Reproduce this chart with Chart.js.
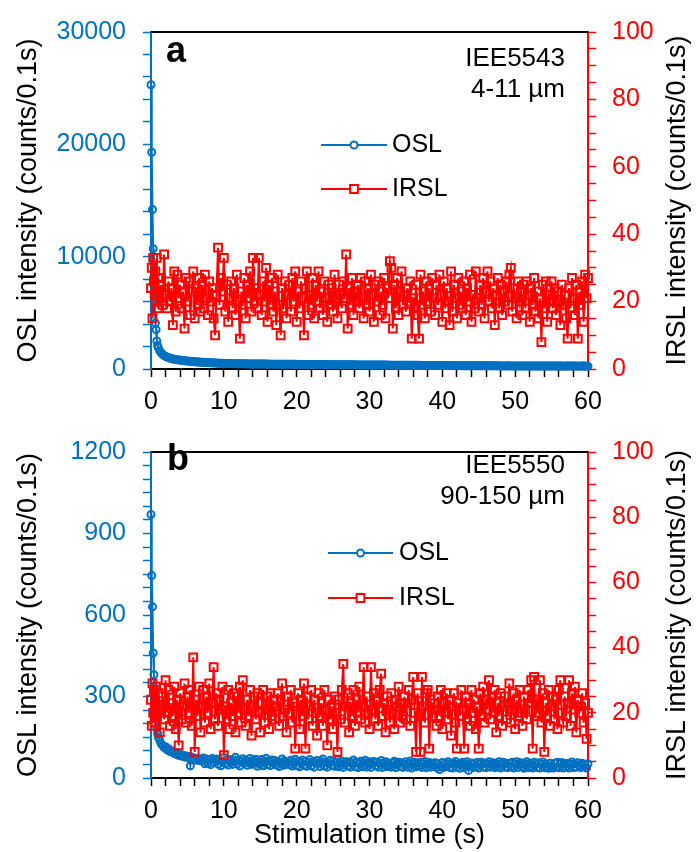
<!DOCTYPE html>
<html>
<head>
<meta charset="utf-8">
<script src="https://cdn.jsdelivr.net/npm/chart.js@4.4.1/dist/chart.umd.min.js"></script>
<style>
  html, body { margin: 0; padding: 0; background: #fff; }
  #wrap { position: relative; width: 696px; height: 852px; }
  .panel { position: absolute; left: 0; width: 696px; }
</style>
</head>
<body>
<div id="wrap">
  <div class="panel" style="top:0;height:420px"><canvas id="chartA"></canvas></div>
  <div class="panel" style="top:420px;height:432px"><canvas id="chartB"></canvas></div>
</div>
<script>
// channel start times (s): every 0.1 s channel for the first second, then every 2nd channel
const time = [];
for (let c = 0; c <= 600; c += (c < 10 ? 1 : 2)) time.push(c / 10);

// panel a : IEE5543, 4-11 um
const oslA = [
  25300,19300,14200,10700,8100,6000,4100,3500,2500,2100,
  1900,1600,1420,1300,1200,1120,1060,1010,970,930,
  900,870,850,830,810,790,770,750,735,720,
  705,690,680,665,655,645,635,625,615,605,
  598,590,580,575,568,560,552,548,540,534,
  528,522,515,512,505,500,496,492,488,485,
  481,478,476,472,470,468,465,462,460,458,
  457,452,455,449,451,446,448,443,445,440,
  442,438,440,435,437,432,434,430,431,428,
  430,426,428,423,425,421,423,419,421,417,
  419,415,417,412,414,410,412,408,410,406,
  408,404,406,401,403,399,401,397,399,395,
  397,393,395,390,392,388,390,386,388,384,
  386,382,384,379,381,377,379,375,377,373,
  375,371,373,368,370,366,368,364,366,362,
  364,360,362,357,359,355,357,353,355,351,
  354,350,352,347,349,345,347,343,345,341,
  344,340,342,337,339,335,337,333,335,331,
  334,330,332,327,329,325,327,323,325,321,
  324,320,322,317,319,315,317,313,315,311,
  314,310,312,307,309,305,307,303,305,301,
  304,300,302,297,299,295,297,293,295,291,
  295,291,293,288,290,286,288,284,286,282,
  290,286,288,283,285,281,283,279,281,277,
  285,281,283,278,280,276,278,274,276,272,
  280,276,278,273,275,271,273,269,271,267,
  276,272,274,269,271,267,269,265,267,263,
  272,268,270,265,267,263,265,261,263,259,
  268,264,266,261,263,259,261,257,259,255,
  265,261,263,258,260,256,258,254,256,252,
  262,258,260,255,257,254
];
const irslA = [
  24,30,15,33,26,22,29,20,33,18,
  27,21,25,19,34,22,18,26,20,24,
  13,29,17,28,21,25,18,23,12,27,
  20,26,16,23,29,15,24,19,27,17,
  25,18,28,21,16,26,20,24,15,10,
  22,36,19,27,23,33,17,25,14,21,
  26,18,24,16,28,20,9,23,19,27,
  15,25,21,29,17,33,20,24,18,33,
  22,16,26,20,30,14,25,19,27,17,
  23,13,28,19,10,24,18,26,15,22,
  25,17,27,20,29,14,23,18,26,21,
  10,24,29,16,22,19,27,15,25,20,
  29,18,23,16,26,21,14,25,19,24,
  17,28,20,15,25,22,18,26,21,34,
  12,24,19,27,16,23,20,25,18,27,
  21,15,26,19,24,17,28,22,14,25,
  20,26,16,23,19,27,15,24,21,32,
  30,12,25,18,27,16,23,29,19,22,
  17,24,20,26,9,21,18,25,16,9,
  28,19,23,15,26,20,24,17,27,21,
  16,25,19,28,22,14,26,18,24,20,
  13,29,17,25,21,15,27,19,23,18,
  26,16,24,20,28,14,22,18,29,21,
  17,25,19,27,15,23,29,20,26,18,
  24,13,22,27,18,25,16,23,20,26,
  19,28,30,17,24,21,15,26,20,23,
  16,25,18,26,22,14,24,19,27,17,
  23,15,21,8,25,18,26,14,22,20,
  26,18,24,16,23,20,13,25,19,22,
  15,9,24,18,27,21,16,25,9,23,
  19,26,14,28,21,27
];

// panel b : IEE5550, 90-150 um
const oslB = [
  970,745,630,460,380,315,260,215,185,165,
  150,138,126,120,112,115,104,108,97,101,
  98,90,94,85,88,82,86,79,83,76,
  80,74,45,77,70,73,66,71,64,69,
  63,74,52,70,55,68,49,72,58,66,
  70,51,64,45,62,75,53,67,48,61,
  68,50,63,76,52,66,44,61,71,55,
  65,47,60,72,50,64,54,69,43,60,
  52,68,45,59,73,49,62,46,66,55,
  64,48,59,42,58,70,47,62,51,57,
  49,65,44,58,69,46,61,41,57,66,
  47,62,43,57,68,45,59,40,56,64,
  55,42,60,70,44,57,40,55,65,47,
  61,43,56,67,41,55,63,39,54,60,
  44,59,40,55,66,42,58,38,53,62,
  41,56,65,40,54,60,39,53,61,45,
  58,40,54,64,39,53,60,42,55,46,
  40,55,62,38,53,58,42,56,39,51,
  60,40,53,63,37,52,58,41,55,45,
  57,39,53,61,38,52,57,40,54,44,
  56,38,52,31,41,57,39,54,43,60,
  39,53,37,54,61,40,51,36,52,58,
  38,52,60,28,42,55,38,52,41,58,
  37,51,58,40,54,38,52,60,40,50,
  56,38,52,41,60,37,51,58,40,53,
  38,54,41,58,37,52,60,39,51,56,
  41,36,52,60,38,54,42,37,58,50,
  39,56,37,51,59,38,52,41,36,54,
  42,37,54,40,58,38,51,57,37,52,
  41,54,37,51,59,38,52,40,56,47,
  38,54,41,51,37,52
];
const irslB = [
  24,16,29,20,27,17,23,28,19,22,
  26,14,21,25,18,30,20,27,16,23,
  19,28,15,24,10,26,18,22,29,17,
  25,20,27,16,37,8,24,19,28,14,
  22,27,17,25,20,29,15,23,34,18,
  26,16,24,21,28,7,22,18,27,15,
  23,19,26,14,25,20,28,17,30,21,
  16,24,19,27,13,22,25,18,26,20,
  14,23,27,17,21,25,15,26,19,24,
  18,22,26,16,24,29,19,21,14,25,
  20,27,17,23,9,22,26,15,24,19,
  29,9,25,18,22,27,16,24,20,13,
  26,19,23,16,27,21,10,24,18,22,
  15,25,20,8,24,18,27,35,17,22,
  26,14,23,19,27,16,24,20,28,18,
  22,34,17,25,20,15,34,21,26,18,
  24,16,27,32,19,23,14,25,21,17,
  26,20,15,24,22,28,17,23,19,25,
  18,23,27,16,24,31,20,8,26,19,
  8,31,22,17,26,27,9,24,19,23,
  21,16,25,19,27,15,23,20,26,18,
  24,13,22,26,17,9,23,19,27,21,
  9,25,18,23,16,27,20,24,15,22,
  9,26,19,28,17,24,21,30,18,25,
  20,27,14,23,19,26,16,22,25,18,
  23,29,17,21,26,15,24,19,27,20,
  16,25,21,18,27,23,30,9,31,19,
  24,20,30,17,26,8,23,19,27,16,
  22,25,18,24,15,27,30,20,17,25,
  19,23,30,16,26,21,28,14,24,20,
  22,26,17,23,12,20
];

const BLUE = "#0070C0";
const RED = "#FF0000";
const FONT = "'Liberation Sans', Arial, sans-serif";
Chart.defaults.font.family = FONT;
Chart.defaults.animation = false;

function pts(vals) {
    return vals.map((v, i) => ({ x: time[i], y: v }));
}

// frame top line, panel letter, sample text, legend and the right axis title (reads bottom-up)
const panelDecor = {
    id: "panelDecor",
    afterDraw(chart, args, o) {
        const ctx = chart.ctx;
        const a = chart.chartArea;
        ctx.save();
        ctx.strokeStyle = "#000";
        ctx.lineWidth = 2;
        ctx.beginPath();
        ctx.moveTo(a.left, a.top);
        ctx.lineTo(a.right, a.top);
        ctx.stroke();

        ctx.fillStyle = "#000";
        ctx.textBaseline = "alphabetic";
        ctx.font = "bold 36px " + FONT;
        ctx.textAlign = "left";
        ctx.fillText(o.letter, o.letterX, o.letterY);

        ctx.font = "26px " + FONT;
        ctx.textAlign = "right";
        o.notes.forEach((t, i) => ctx.fillText(t, o.noteX, o.noteY[i]));

        // legend
        const lg = o.legend;
        chart.data.datasets.slice().reverse().forEach((ds, i) => {
            const y = lg.y[i];
            const xm = (lg.x1 + lg.x2) / 2;
            ctx.strokeStyle = ds.borderColor;
            ctx.lineWidth = 2;
            ctx.beginPath();
            ctx.moveTo(lg.x1, y);
            ctx.lineTo(lg.x2, y);
            ctx.stroke();
            ctx.fillStyle = "#fff";
            ctx.lineWidth = 2;
            ctx.beginPath();
            if (ds.pointStyle === "rect") {
                const h = Math.SQRT1_2 * ds.pointRadius;
                ctx.rect(xm - h, y - h, 2 * h, 2 * h);
            } else {
                ctx.arc(xm, y, ds.pointRadius, 0, Math.PI * 2);
            }
            ctx.fill();
            ctx.stroke();
            ctx.fillStyle = "#000";
            ctx.font = "25px " + FONT;
            ctx.textAlign = "left";
            ctx.textBaseline = "middle";
            ctx.fillText(ds.label, lg.textX, y);
        });

        ctx.translate(o.rightTitleX, (a.top + a.bottom) / 2);
        ctx.rotate(-Math.PI / 2);
        ctx.font = "27px " + FONT;
        ctx.textAlign = "center";
        ctx.textBaseline = "middle";
        ctx.fillText(o.rightTitle, 0, 0);
        ctx.restore();
    }
};

function makeChart(id, osl, irsl, leftMax, leftStep, leftMajor, topPad, xHeight, showXTitle, decor) {
    return new Chart(document.getElementById(id), {
        type: "line",
        data: {
            datasets: [
                {
                    label: "IRSL",
                    data: pts(irsl),
                    yAxisID: "y2",
                    borderColor: RED,
                    borderWidth: 2,
                    pointStyle: "rect",
                    pointRadius: 5.5,
                    pointBorderWidth: 2,
                    pointBorderColor: RED,
                    pointBackgroundColor: "rgba(0,0,0,0)",
                    clip: false,
                    order: 1,
                },
                {
                    label: "OSL",
                    data: pts(osl),
                    yAxisID: "y",
                    borderColor: BLUE,
                    borderWidth: 2,
                    pointStyle: "circle",
                    pointRadius: 3.5,
                    pointBorderWidth: 2,
                    pointBorderColor: BLUE,
                    pointBackgroundColor: "rgba(0,0,0,0)",
                    clip: false,
                    order: 2,
                },
            ],
        },
        options: {
            responsive: true,
            maintainAspectRatio: false,
            layout: { padding: { top: topPad, left: 0, right: 0, bottom: 0 } },
            plugins: {
                legend: { display: false },
                tooltip: { enabled: false },
                panelDecor: decor,
            },
            scales: {
                x: {
                    type: "linear",
                    min: 0,
                    max: 60,
                    border: { color: "#000", width: 2 },
                    grid: { drawOnChartArea: false, tickLength: 8, tickColor: "#000", tickWidth: 1.5 },
                    ticks: {
                        stepSize: 2, autoSkip: false, maxRotation: 0, color: "#000", padding: 10,
                        font: { size: 25 },
                        callback: v => (v % 10 === 0 ? String(v) : ""),
                    },
                    title: {
                        display: showXTitle, text: "Stimulation time (s)", color: "#000",
                        font: { size: 27 }, padding: { top: 0, bottom: 0 },
                    },
                    afterFit: s => { s.height = xHeight; },
                },
                y: {
                    position: "left",
                    min: 0,
                    max: leftMax,
                    border: { color: BLUE, width: 2 },
                    grid: { drawOnChartArea: false, tickLength: 8, tickColor: BLUE, tickWidth: 1.5 },
                    ticks: {
                        stepSize: leftStep, autoSkip: false, color: BLUE, padding: 17,
                        font: { size: 25 },
                        callback: v => (v % leftMajor === 0 ? String(v) : ""),
                    },
                    title: {
                        display: true, text: "OSL intensity (counts/0.1s)", color: "#000",
                        font: { size: 27 }, padding: { top: 12, bottom: 0 },
                    },
                    afterFit: s => { s.width = 151; },
                },
                y2: {
                    position: "right",
                    min: 0,
                    max: 100,
                    border: { color: RED, width: 2 },
                    grid: { drawOnChartArea: false, tickLength: 8, tickColor: RED, tickWidth: 1.5 },
                    ticks: {
                        stepSize: 5, autoSkip: false, color: RED, padding: 16,
                        font: { size: 25 },
                        callback: v => (v % 20 === 0 ? String(v) : ""),
                    },
                    afterFit: s => { s.width = 108; },
                },
            },
        },
        plugins: [panelDecor],
    });
}

const chartA = makeChart("chartA", oslA, irslA, 30000, 2000, 10000, 24, 51, false, {
    letter: "a", letterX: 166, letterY: 62,
    notes: ["IEE5543", "4-11 µm"], noteX: 565, noteY: [66, 97],
    legend: { x1: 321, x2: 387, textX: 392, y: [145, 189] },
    rightTitle: "IRSL intensity (counts/0.1s)", rightTitleX: 678,
});

const chartB = makeChart("chartB", oslB, irslB, 1200, 50, 300, 12, 74, true, {
    letter: "b", letterX: 167, letterY: 50,
    notes: ["IEE5550", "90-150 µm"], noteX: 565, noteY: [53, 84],
    legend: { x1: 328, x2: 393, textX: 399, y: [133, 178] },
    rightTitle: "IRSL intensity (counts/0.1s)", rightTitleX: 678,
});
</script>
</body>
</html>
